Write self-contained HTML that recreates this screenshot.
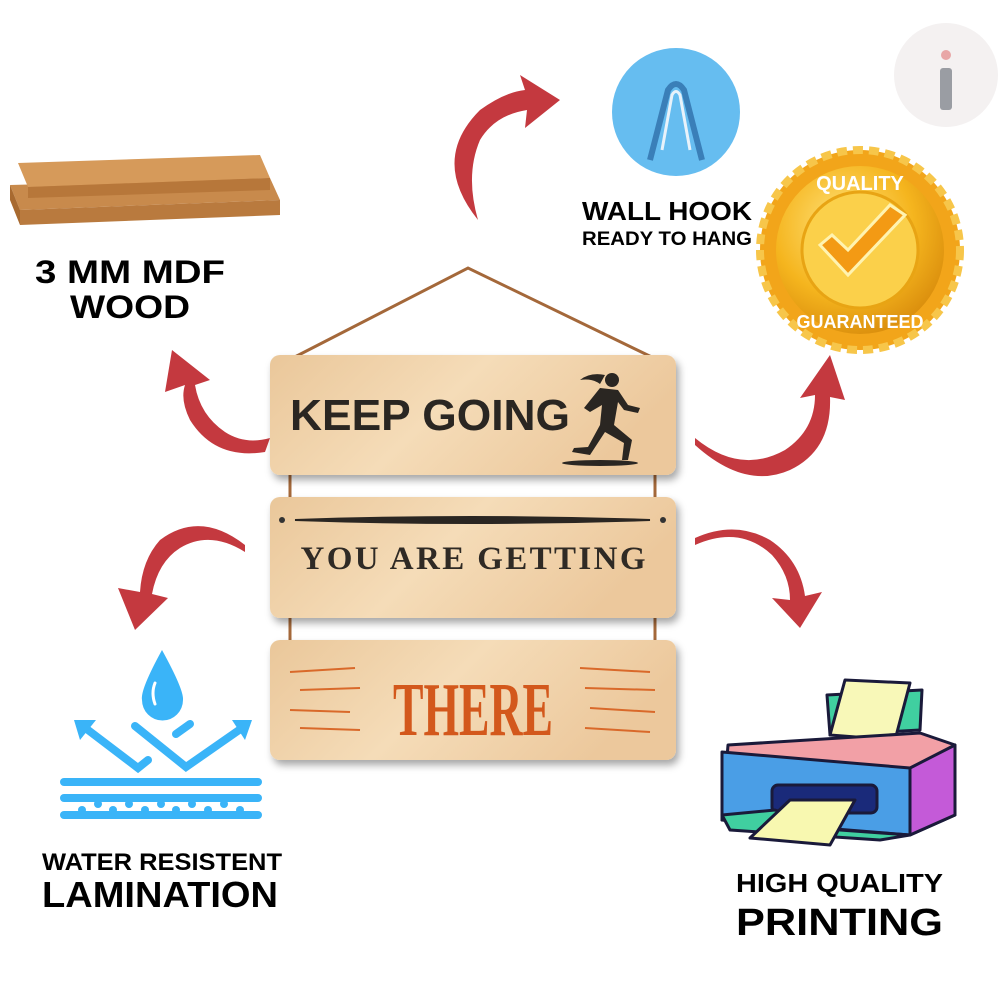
<!DOCTYPE html>
<html><head><style>
html,body{margin:0;padding:0;background:#fff;width:1000px;height:1000px;overflow:hidden}
svg{display:block}
text{font-family:"Liberation Sans",sans-serif;font-weight:bold}
</style></head><body>
<svg width="1000" height="1000" viewBox="0 0 1000 1000">
<defs>
<linearGradient id="wood" x1="0" y1="0" x2="1" y2="0.3">
<stop offset="0" stop-color="#eac79a"/><stop offset="0.5" stop-color="#f5dcb8"/><stop offset="1" stop-color="#ecc89c"/>
</linearGradient>
<radialGradient id="gold" cx="0.4" cy="0.35" r="0.7">
<stop offset="0" stop-color="#ffe27a"/><stop offset="0.6" stop-color="#f5b51e"/><stop offset="1" stop-color="#d98c0c"/>
</radialGradient>
<filter id="sh" x="-10%" y="-10%" width="130%" height="140%"><feDropShadow dx="3" dy="5" stdDeviation="4" flood-opacity="0.35"/></filter>
</defs>

<circle cx="946" cy="75" r="52" fill="#f4f1f1"/>
<rect x="940" y="68" width="12" height="42" rx="3" fill="#9a9da3"/>
<circle cx="946" cy="55" r="5" fill="#e8a6a6"/>

<polygon points="10,185 270,178 280,200 20,210" fill="#c88a4c"/>
<polygon points="10,185 20,210 20,225 10,200" fill="#a86a30"/>
<polygon points="20,210 280,200 280,215 20,225" fill="#b97a3e"/>
<polygon points="18,163 260,155 270,178 28,187" fill="#d69a5a"/>
<polygon points="28,187 270,178 270,190 28,198" fill="#b7773a"/>
<text x="35" y="283" font-size="32" textLength="190" lengthAdjust="spacingAndGlyphs">3 MM MDF</text>
<text x="130" y="318" font-size="32" text-anchor="middle" textLength="120" lengthAdjust="spacingAndGlyphs">WOOD</text>

<circle cx="676" cy="112" r="64" fill="#66bdf0"/>
<path d="M650 160 L668 90 Q676 78 684 90 L702 160" fill="none" stroke="#3a7fb8" stroke-width="6"/>
<path d="M662 150 L672 95 Q676 88 680 95 L690 150" fill="none" stroke="#e8f2fa" stroke-width="3"/>
<text x="582" y="220" font-size="26" textLength="170" lengthAdjust="spacingAndGlyphs">WALL HOOK</text>
<text x="582" y="245" font-size="19" textLength="170" lengthAdjust="spacingAndGlyphs">READY TO HANG</text>

<g transform="translate(860,250)">
<circle r="100" fill="#f2a51a" stroke="#f7c64a" stroke-width="8" stroke-dasharray="10 6"/>
<circle r="84" fill="url(#gold)"/>
<circle r="58" fill="#fbd04a" stroke="#e8a414" stroke-width="3"/>
<path d="M-40 -5 L-12 25 L45 -35 L30 -45 L-12 0 L-28 -15 Z" fill="#f39a14" stroke="#fff3b0" stroke-width="3"/>
<text x="0" y="-60" font-size="20" fill="#fff" text-anchor="middle">QUALITY</text>
<text x="0" y="78" font-size="18" fill="#fff" text-anchor="middle">GUARANTEED</text>
</g>

<g fill="#c4393f" stroke="none">
<path d="M478 220 Q430 160 480 110 Q505 92 525 90 L520 75 L560 100 L525 128 L527 110 Q495 115 480 140 Q465 175 478 220Z"/>
<path d="M265 452 Q215 460 190 420 Q180 400 185 385 L165 392 L172 350 L210 380 L195 385 Q200 415 225 432 Q245 445 270 438Z"/>
<path d="M695 438 Q740 475 785 450 Q815 430 815 395 L800 398 L830 355 L845 400 L830 397 Q832 450 790 470 Q745 490 695 445Z"/>
<path d="M245 545 Q200 510 160 540 Q142 560 140 592 L118 588 L135 630 L168 598 L152 594 Q158 562 180 548 Q210 530 245 552Z"/>
<path d="M695 545 Q740 525 772 555 Q790 575 790 600 L772 598 L800 628 L822 592 L805 596 Q800 560 770 540 Q735 520 695 538Z"/>
</g>

<path d="M285 362 L468 268 L662 362" fill="none" stroke="#a4683a" stroke-width="3"/>
<line x1="290" y1="470" x2="290" y2="505" stroke="#a4683a" stroke-width="3"/>
<line x1="655" y1="470" x2="655" y2="505" stroke="#a4683a" stroke-width="3"/>
<line x1="290" y1="612" x2="290" y2="648" stroke="#a4683a" stroke-width="3"/>
<line x1="655" y1="612" x2="655" y2="648" stroke="#a4683a" stroke-width="3"/>

<rect x="270" y="355" width="406" height="120" rx="10" fill="url(#wood)" filter="url(#sh)"/>
<rect x="270" y="497" width="406" height="121" rx="10" fill="url(#wood)" filter="url(#sh)"/>
<rect x="270" y="640" width="406" height="120" rx="10" fill="url(#wood)" filter="url(#sh)"/>

<text x="290" y="430" font-size="44" fill="#2a2622" textLength="280" lengthAdjust="spacingAndGlyphs">KEEP GOING</text>
<g fill="#2a2622">
<circle cx="612" cy="380" r="7"/>
<path d="M600 388 L618 390 L628 405 L640 408 L638 413 L624 410 L618 402 L614 425 L632 440 L628 460 L622 460 L624 443 L605 432 L590 455 L572 452 L574 448 L588 447 L600 425 L602 405 L590 412 L584 408Z"/>
<path d="M605 375 Q590 372 580 380 Q592 378 600 384Z"/>
<ellipse cx="600" cy="463" rx="38" ry="3"/>
</g>

<circle cx="282" cy="520" r="3" fill="#333"/><circle cx="663" cy="520" r="3" fill="#333"/>
<path d="M295 520 Q470 514 650 520 Q470 526 295 520Z" fill="#2a2622" stroke="#2a2622" stroke-width="2"/>
<text x="473" y="569" font-size="33" fill="#2f2a25" text-anchor="middle" style="font-family:'Liberation Serif',serif" textLength="345">YOU ARE GETTING</text>

<g stroke="#d9692a" stroke-width="2">
<line x1="290" y1="672" x2="355" y2="668"/><line x1="300" y1="690" x2="360" y2="688"/><line x1="290" y1="710" x2="350" y2="712"/><line x1="300" y1="728" x2="360" y2="730"/>
<line x1="580" y1="668" x2="650" y2="672"/><line x1="585" y1="688" x2="655" y2="690"/><line x1="590" y1="708" x2="655" y2="712"/><line x1="585" y1="728" x2="650" y2="732"/>
</g>
<text x="473" y="735" font-size="76" fill="#d3581c" text-anchor="middle" style="font-family:'Liberation Serif',serif" textLength="160" lengthAdjust="spacingAndGlyphs">THERE</text>

<g stroke="#3ab4f8" stroke-width="8" stroke-linecap="round" fill="none">
<path d="M88 730 L138 768 L148 760"/>
<path d="M135 726 L186 767 L242 728"/>
<line x1="176" y1="734" x2="190" y2="724"/>
<line x1="64" y1="782" x2="258" y2="782"/>
<line x1="64" y1="798" x2="258" y2="798"/>
<line x1="64" y1="815" x2="258" y2="815"/>
</g>
<polygon points="74,720 96,720 80,740" fill="#3ab4f8"/>
<polygon points="232,720 252,720 245,740" fill="#3ab4f8"/>
<g fill="#3ab4f8"><circle cx="98" cy="804" r="4"/><circle cx="129" cy="804" r="4"/><circle cx="161" cy="804" r="4"/><circle cx="192" cy="804" r="4"/><circle cx="224" cy="804" r="4"/>
<circle cx="82" cy="810" r="4"/><circle cx="113" cy="810" r="4"/><circle cx="145" cy="810" r="4"/><circle cx="176" cy="810" r="4"/><circle cx="208" cy="810" r="4"/><circle cx="240" cy="810" r="4"/></g>
<path d="M162 650 Q140 690 142 700 A20 20 0 0 0 183 700 Q184 690 162 650Z" fill="#3ab4f8"/>
<path d="M155 683 Q151 693 155 704" stroke="#fff" stroke-width="3" fill="none" stroke-linecap="round"/>
<text x="42" y="870" font-size="24" textLength="240" lengthAdjust="spacingAndGlyphs">WATER RESISTENT</text>
<text x="42" y="907" font-size="36" textLength="236" lengthAdjust="spacingAndGlyphs">LAMINATION</text>

<g stroke="#1a1a3a" stroke-width="3" stroke-linejoin="round">
<path d="M827 695 L922 690 L920 730 L830 735Z" fill="#40cfa0"/>
<path d="M845 680 L910 683 L895 740 L830 735Z" fill="#f8f8b8"/>
<path d="M728 745 L920 733 L955 745 L955 815 L910 835 L722 820Z" fill="#f2a0a6"/>
<path d="M722 752 L910 768 L910 835 L722 820Z" fill="#4a9ee6"/>
<path d="M910 768 L955 745 L955 815 L910 835Z" fill="#c45ad8"/>
<rect x="772" y="785" width="105" height="28" rx="6" fill="#1a2a7a"/>
<path d="M722 815 L775 810 L840 830 L910 835 L880 840 L730 830Z" fill="#40cfa0"/>
<path d="M790 800 L855 800 L830 845 L750 838Z" fill="#f8f8b0"/>
</g>
<text x="736" y="892" font-size="26" textLength="207" lengthAdjust="spacingAndGlyphs">HIGH QUALITY</text>
<text x="736" y="935" font-size="38" textLength="207" lengthAdjust="spacingAndGlyphs">PRINTING</text>
</svg>
</body></html>
